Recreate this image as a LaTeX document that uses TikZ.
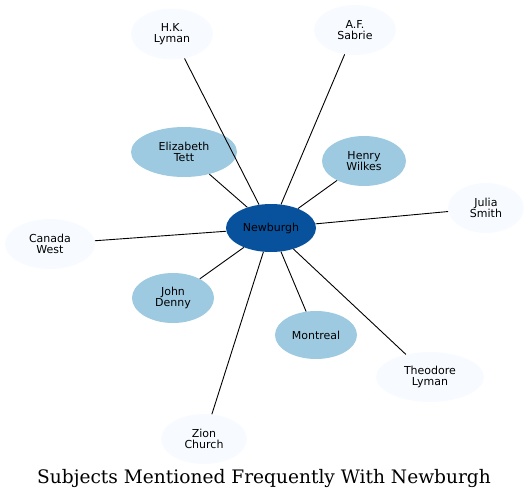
\documentclass[tikz,border=0pt]{standalone}
\usepackage{fontspec}
\newfontfamily\labelfont{DejaVu Sans}
\newfontfamily\titlefont{DejaVu Serif}
\usepackage{tikz}
\usetikzlibrary{shapes.geometric}
\usepackage{xcolor}

\definecolor{hubblue}{HTML}{08519C}
\definecolor{midblue}{HTML}{9ECAE1}
\definecolor{paleblue}{HTML}{F7FBFF}

\tikzset{
    topic/.style={ellipse, inner sep=0pt, align=center, text=black,
        font=\labelfont\fontsize{11}{11.5}\selectfont},
    hub/.style={topic, fill=hubblue, minimum width=90pt, minimum height=48pt},
    near/.style={topic, fill=midblue, minimum height=50pt},
    far/.style={topic, fill=paleblue, minimum height=50pt},
    link/.style={draw=black, line width=0.9pt}
}

\begin{document}
\begin{tikzpicture}[x=1pt, y=-1pt]
    \useasboundingbox (0,0) rectangle (528,498);

    % Centre node
    \node[hub] (nb) at (271,228) {Newburgh};

    % Inner ring: frequent subjects
    \node[near, minimum width=106pt] (et) at (184,152) {Elizabeth\\Tett};
    \node[near, minimum width=84pt] (hw) at (364,161) {Henry\\Wilkes};
    \node[near, minimum width=82pt] (jd) at (173,298) {John\\Denny};
    \node[near, minimum width=82pt, minimum height=48pt] (mtl) at (316,335) {Montreal};

    % Outer ring: less frequent subjects
    \node[far, minimum width=82pt, minimum height=51pt] (hkl) at (172,34) {H.K.\\Lyman};
    \node[far, minimum width=82pt] (afs) at (355,30) {A.F.\\Sabrie};
    \node[far, minimum width=76pt] (js) at (486,208) {Julia\\Smith};
    \node[far, minimum width=90pt] (cw) at (50,244) {Canada\\West};
    \node[far, minimum width=108pt] (tl) at (430,377) {Theodore\\Lyman};
    \node[far, minimum width=86pt] (zc) at (204,439) {Zion\\Church};

    % Links from the centre
    \foreach \other in {et, hw, jd, mtl, hkl, afs, js, cw, tl, zc}
        \draw[link] (nb) -- (\other);

    % Caption
    \node[anchor=base, font=\titlefont\fontsize{18.6}{21}\selectfont] (caption)
        at (264,483) {Subjects Mentioned Frequently With Newburgh};
\end{tikzpicture}
\end{document}
